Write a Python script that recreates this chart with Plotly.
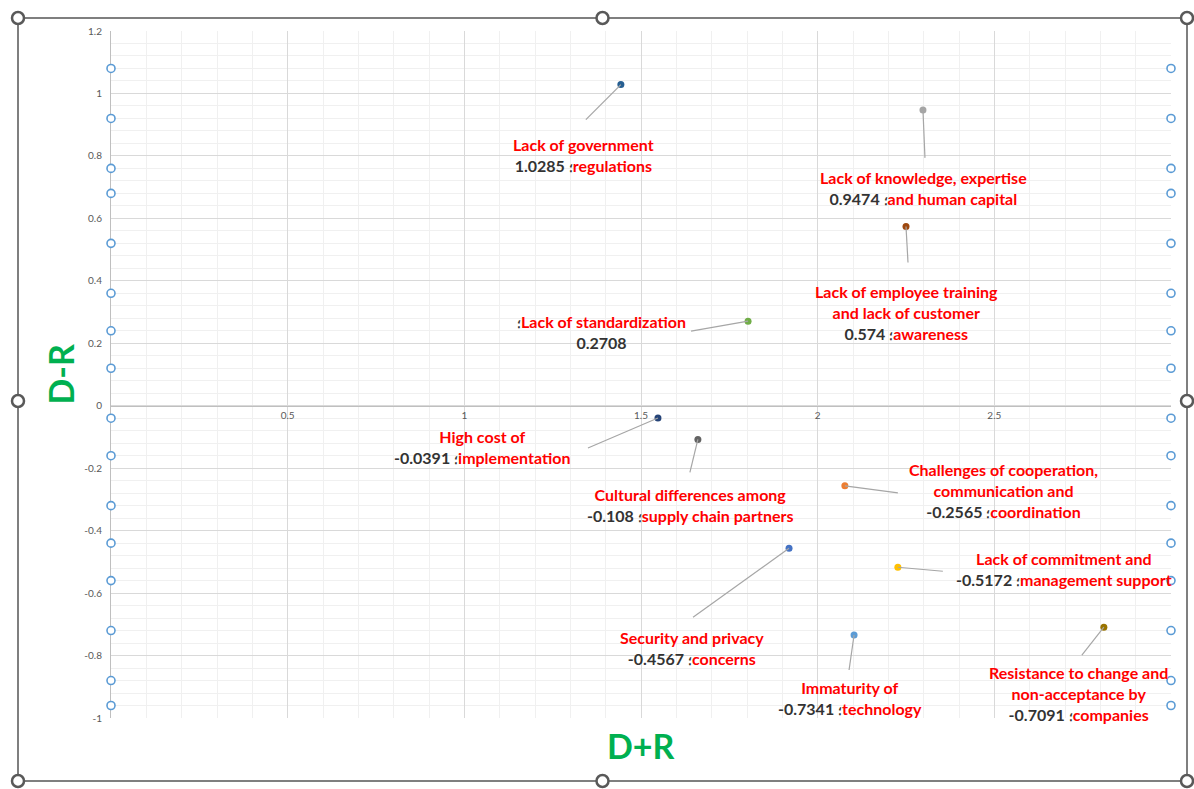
import plotly.graph_objects as go

# Barrier names ("\n" marks the line breaks used in the point labels)
barriers = [
    "Lack of government\nregulations",
    "Lack of knowledge, expertise\nand human capital",
    "Lack of employee training\nand lack of customer\nawareness",
    "Lack of standardization",
    "High cost of\nimplementation",
    "Cultural differences among\nsupply chain partners",
    "Challenges of cooperation,\ncommunication and\ncoordination",
    "Security and privacy\nconcerns",
    "Lack of commitment and\nmanagement support",
    "Immaturity of\ntechnology",
    "Resistance to change and\nnon-acceptance by\ncompanies",
]
d_plus_r = [1.443, 2.298, 2.25, 1.803, 1.548, 1.661, 2.077, 1.919, 2.227, 2.103, 2.81]
d_minus_r = [1.0285, 0.9474, 0.574, 0.2708, -0.0391, -0.108, -0.2565, -0.4567, -0.5172, -0.7341, -0.7091]
point_colors = ["#255e91", "#a5a5a5", "#9e480e", "#70ad47", "#264478", "#636363",
                "#ed7d31", "#4472c4", "#ffc000", "#5b9bd5", "#997300"]

x_ticks = [0, 0.5, 1, 1.5, 2, 2.5, 3]
x_tick_text = ["", "0.5", "1", "1.5", "2", "2.5", ""]
y_ticks = [1.2, 1, 0.8, 0.6, 0.4, 0.2, 0, -0.2, -0.4, -0.6, -0.8, -1]
y_tick_text = ["1.2", "1", "0.8", "0.6", "0.4", "0.2", "0", "-0.2", "-0.4", "-0.6", "-0.8", "-1"]

X_RANGE = [0, 3]
Y_RANGE = [-1, 1.2]

# Label placement (pixel offsets from each point: text centre, leader-line end)
label_offset = [(-37, 70), (1, 78), (0, 86), (-147, 11), (-176, 29), (-8, 66),
                (159, 5), (-97, 100), (166, 2), (-4, 63), (-25, 66)]
leader_end = [(-35, 35), (2, 48), (2, 36), (-57, 10), (-70, 30), (-8, 33),
              (53, 7), (-96, 69), (45, 4), (-5, 35), (-22, 28)]

# Selection handles along the plot-area sides (in D-R units)
handle_y = [1.08, 0.92, 0.76, 0.68, 0.52, 0.36, 0.24, 0.12, -0.04, -0.16,
            -0.32, -0.44, -0.56, -0.72, -0.88, -0.96]

RED = "#ff0000"
VAL = "#333333"
SEP = "\u061b"
LABEL_FONT = dict(family="Lato", size=16, weight="bold", color=RED)

W, H = 1194, 789
ML, MR, MT, MB = 111, 23, 31, 71
pw, ph = W - ML - MR, H - MT - MB

fig = go.Figure()
fig.add_trace(go.Scatter(
    x=d_plus_r, y=d_minus_r, mode="markers",
    marker=dict(size=7, color=point_colors),
    hovertext=[b.replace("\n", " ") for b in barriers],
    showlegend=False,
))

annotations = []
shapes = []
for name, xv, yv, (tdx, tdy), (ldx, ldy) in zip(barriers, d_plus_r, d_minus_r,
                                                 label_offset, leader_end):
    lines = name.split("\n")
    val = f"<span style='color:{VAL}'>{yv}</span>"
    sep = f"<span style='color:{VAL};font-size:12px'>{SEP}</span>"
    if len(lines) == 1:
        text = f"{sep}<span style='color:{RED}'>{lines[0]}</span><br>{val}"
    else:
        head = "<br>".join(f"<span style='color:{RED}'>{ln}</span>" for ln in lines[:-1])
        text = f"{head}<br>{val} {sep}<span style='color:{RED}'>{lines[-1]}</span>"
    annotations.append(dict(
        x=xv, y=yv, xref="x", yref="y", text=text, showarrow=False,
        xshift=tdx, yshift=-tdy, xanchor="center", yanchor="middle", align="center",
        font=LABEL_FONT,
    ))
    shapes.append(dict(
        type="line", xref="x", yref="y", xsizemode="pixel", ysizemode="pixel",
        xanchor=xv, yanchor=yv, x0=0, y0=0, x1=ldx, y1=-ldy,
        line=dict(color="#a6a6a6", width=1.2),
    ))

# Axis titles
annotations.append(dict(
    x=-0.048, y=0.5, xref="paper", yref="paper", text="D-R", showarrow=False,
    textangle=-90, xanchor="center", yanchor="middle",
    font=dict(family="Lato", size=34, weight="bold", color="#00b050"),
))
annotations.append(dict(
    x=0.5, y=-0.04, xref="paper", yref="paper", text="D+R", showarrow=False,
    xanchor="center", yanchor="middle",
    font=dict(family="Lato", size=34, weight="bold", color="#00b050"),
))

# Blue handles on both vertical edges of the plot area (paper refs so they are not clipped)
for hx in (0, 1):
    for hy in handle_y:
        py = (hy - Y_RANGE[0]) / (Y_RANGE[1] - Y_RANGE[0])
        shapes.append(dict(
            type="circle", xref="paper", yref="paper", xsizemode="pixel", ysizemode="pixel",
            xanchor=hx, yanchor=py, x0=-4, x1=4, y0=-4, y1=4,
            fillcolor="white", line=dict(color="#5b9bd5", width=1.6),
        ))

# Chart-area frame with its sizing handles
fx0, fx1 = (18 - ML) / pw, (1187 - ML) / pw
fy0, fy1 = (H - MB - 781) / ph, (H - MB - 18) / ph
shapes.append(dict(type="rect", xref="paper", yref="paper", x0=fx0, x1=fx1, y0=fy0, y1=fy1,
                   line=dict(color="#7f7f7f", width=2), layer="below"))
fxm, fym = (fx0 + fx1) / 2, (H - MB - 401) / ph
for hx, hy in [(fx0, fy1), (fxm, fy1), (fx1, fy1), (fx0, fym), (fx1, fym),
               (fx0, fy0), (fxm, fy0), (fx1, fy0)]:
    shapes.append(dict(
        type="circle", xref="paper", yref="paper", xsizemode="pixel", ysizemode="pixel",
        xanchor=hx, yanchor=hy, x0=-6, x1=6, y0=-6, y1=6,
        fillcolor="white", line=dict(color="#595959", width=2.5),
    ))

zero_pos = (0 - Y_RANGE[0]) / (Y_RANGE[1] - Y_RANGE[0])

fig.update_layout(
    width=W, height=H,
    margin=dict(l=ML, r=MR, t=MT, b=MB),
    paper_bgcolor="white", plot_bgcolor="white",
    font=dict(family="Lato", color="#595959"),
    xaxis=dict(
        range=X_RANGE, tickvals=x_ticks, ticktext=x_tick_text,
        anchor="free", position=zero_pos,
        showline=True, linecolor="#bfbfbf", linewidth=1,
        showgrid=True, gridcolor="#d9d9d9", gridwidth=1,
        zeroline=False, ticks="",
        tickfont=dict(size=10, color="#595959"),
        minor=dict(dtick=0.1, tick0=0, showgrid=True, gridcolor="#f0f0f0", gridwidth=1),
    ),
    yaxis=dict(
        range=Y_RANGE, tickvals=y_ticks, ticktext=y_tick_text,
        showline=True, linecolor="#bfbfbf", linewidth=1,
        showgrid=True, gridcolor="#d9d9d9", gridwidth=1,
        zeroline=False, ticks="", ticklabelstandoff=6,
        tickfont=dict(size=10, color="#595959"),
        minor=dict(dtick=0.04, tick0=0, showgrid=True, gridcolor="#f0f0f0", gridwidth=1),
    ),
    annotations=annotations,
    shapes=shapes,
)

fig.write_html("out.html")
